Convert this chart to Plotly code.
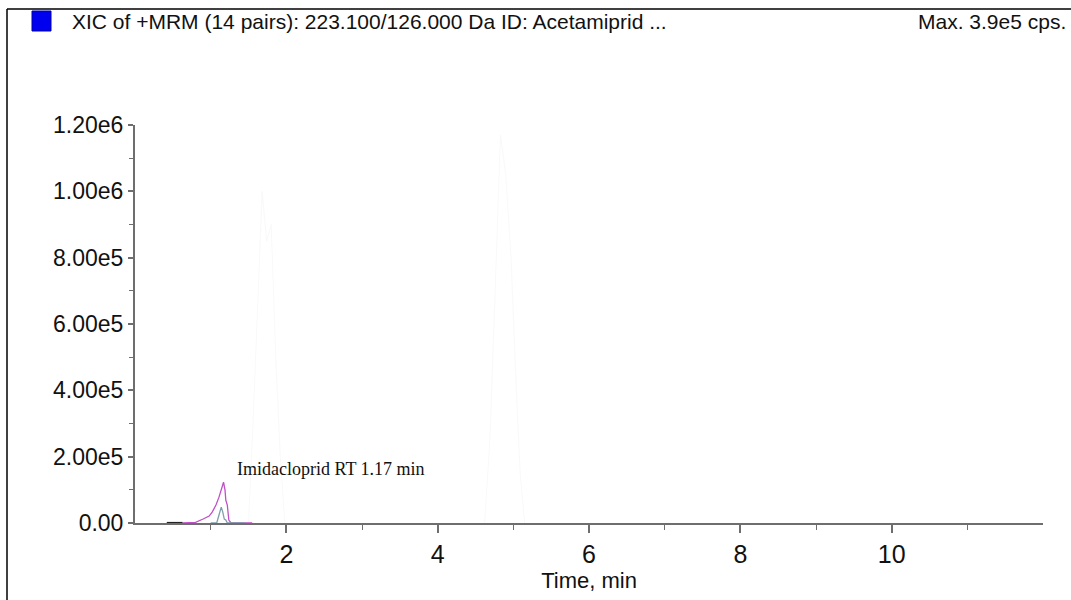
import plotly.graph_objects as go

# ---- data ----
magenta_t = [0.63, 0.80, 0.90, 0.98, 1.02, 1.07, 1.11, 1.15, 1.17, 1.19, 1.20, 1.22, 1.24, 1.27, 1.40, 1.55]
magenta_i = [0, 2000, 12000, 21000, 33000, 54000, 78000, 105000, 123000, 99000, 69000, 54000, 9000, 0, 0, 0]

teal_t = [1.00, 1.08, 1.11, 1.14, 1.16, 1.18, 1.20, 1.22, 1.35, 1.45]
teal_i = [0, 0, 24000, 48000, 33000, 12000, 9000, 0, 0, 0]

black_t = [0.42, 0.50, 0.55, 0.63]
black_i = [1500, 1500, 2000, 1500]

ghost1_t = [1.50, 1.56, 1.62, 1.68, 1.74, 1.80, 1.86, 1.92, 1.98]
ghost1_i = [0, 300000, 650000, 1000000, 850000, 900000, 500000, 200000, 0]
ghost2_t = [4.62, 4.69, 4.76, 4.83, 4.90, 4.97, 5.04, 5.09, 5.15]
ghost2_i = [0, 250000, 700000, 1170000, 1050000, 800000, 400000, 150000, 0]

x_ticks = [2, 4, 6, 8, 10]
y_ticks = [0, 200000, 400000, 600000, 800000, 1000000, 1200000]
y_tick_text = ["0.00", "2.00e5", "4.00e5", "6.00e5", "8.00e5", "1.00e6", "1.20e6"]

title_text = "XIC of +MRM (14 pairs): 223.100/126.000 Da ID: Acetamiprid ..."
max_text = "Max. 3.9e5 cps."
peak_label = "Imidacloprid RT 1.17 min"
peak_label_pos = (1.32, 162000)

FONT = "Liberation Sans Narrow, Arial Narrow, Liberation Sans, Arial, sans-serif"

fig = go.Figure()
for t, i in [(ghost1_t, ghost1_i), (ghost2_t, ghost2_i)]:
    fig.add_trace(go.Scatter(x=t, y=i, mode="lines", line=dict(color="#f9f9f9", width=1), hoverinfo="skip"))
fig.add_trace(go.Scatter(x=black_t, y=black_i, mode="lines", line=dict(color="#222222", width=1.2)))
fig.add_trace(go.Scatter(x=magenta_t, y=magenta_i, mode="lines", line=dict(color="#c04fc8", width=1.3)))
fig.add_trace(go.Scatter(x=teal_t, y=teal_i, mode="lines", line=dict(color="#7e9faa", width=1.3)))

fig.add_annotation(x=peak_label_pos[0], y=peak_label_pos[1], xref="x", yref="y", text=peak_label,
                   showarrow=False, xanchor="left", yanchor="middle",
                   font=dict(family="Liberation Serif, Times New Roman, serif", size=18, color="#111111"))

# plot area geometry in pixels
L, R, T, B = 135, 1043, 125, 523
W, H = R - L, B - T
def px(x):
    return (x - L) / W
def py(y):
    return (B - y) / H

fig.add_annotation(x=px(70), y=py(22), xref="paper", yref="paper", text=title_text, showarrow=False,
                   xanchor="left", yanchor="middle", font=dict(family=FONT, size=21, color="#111111"))
fig.add_annotation(x=px(1068), y=py(22), xref="paper", yref="paper", text=max_text, showarrow=False,
                   xanchor="right", yanchor="middle", font=dict(family=FONT, size=21, color="#111111"))

shapes = [
    dict(type="line", xref="paper", yref="paper", x0=px(7), x1=px(1071), y0=py(9), y1=py(9),
         line=dict(color="#000000", width=1.5)),
    dict(type="line", xref="paper", yref="paper", x0=px(7), x1=px(7), y0=py(9), y1=py(600),
         line=dict(color="#000000", width=1.5)),
    dict(type="rect", xref="paper", yref="paper", x0=px(32), x1=px(51), y0=py(11), y1=py(31),
         fillcolor="#0000ee", line=dict(color="#0000aa", width=1)),
    dict(type="path", xref="x", yref="y", xsizemode="pixel", ysizemode="pixel", xanchor=0, yanchor=0,
         path="M -10,1 L 0,12 L -10,24 Z", fillcolor="#1010dd", line=dict(color="#0000aa", width=0.5)),
]
fig.update_layout(shapes=shapes)

fig.update_layout(
    width=1071, height=600, autosize=False,
    margin=dict(l=L, r=1071 - R, t=T, b=600 - B),
    paper_bgcolor="white", plot_bgcolor="white",
    showlegend=False,
    font=dict(family=FONT, color="#111111"),
)
fig.update_xaxes(range=[0, 12], tickvals=x_ticks, ticktext=[str(v) for v in x_ticks],
                 showgrid=False, zeroline=False, showline=True, linecolor="#6e6e6e", linewidth=2,
                 ticks="outside", ticklen=8, tickwidth=1.5, tickcolor="#6e6e6e",
                 minor=dict(tickvals=[1, 3, 5, 7, 9, 11], ticks="outside", ticklen=5, tickcolor="#6e6e6e", tickwidth=1),
                 tickfont=dict(family=FONT, size=25),
                 title=dict(text="Time, min", font=dict(family=FONT, size=22), standoff=4))
fig.update_yaxes(range=[0, 1200000], tickvals=y_ticks, ticktext=y_tick_text,
                 showgrid=False, zeroline=False, showline=True, linecolor="#6e6e6e", linewidth=2,
                 ticks="outside", ticklen=5, tickwidth=1.5, tickcolor="#6e6e6e",
                 minor=dict(tickvals=[100000, 300000, 500000, 700000, 900000, 1100000], ticks="outside",
                            ticklen=4, tickcolor="#6e6e6e", tickwidth=1),
                 tickfont=dict(family=FONT, size=23))

fig.write_html("out.html")
